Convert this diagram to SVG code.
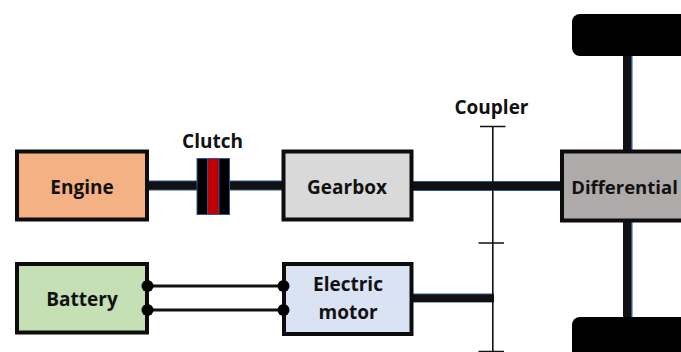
<svg xmlns="http://www.w3.org/2000/svg" width="681" height="352" viewBox="0 0 681 352">
<style>
.box{stroke:#0d0d0d;stroke-width:4}
.lab{font-family:"Open Sans","Noto Sans","Liberation Sans",sans-serif;font-weight:700;font-size:19px;fill:#111;text-anchor:middle}
.edge{fill:#2f5597}
.core{fill:#111}
.wire{stroke:#111;stroke-width:3;fill:none}
.thin{stroke:#111;stroke-width:1.6;fill:none}
.dot{fill:#000}
.wheel{fill:#000}
</style>
<rect width="681" height="352" fill="#fff"/>
<g id="connectors">
<rect class="edge" x="146" y="180.500" width="52" height="10"/><rect class="core" x="146" y="181.500" width="52" height="8"/>
<rect class="edge" x="230" y="180.500" width="54" height="10"/><rect class="core" x="230" y="181.500" width="54" height="8"/>
<rect class="edge" x="412" y="181" width="150" height="10"/><rect class="core" x="412" y="182" width="150" height="8"/>
<rect class="edge" x="623" y="55" width="9.500" height="96"/><rect class="core" x="623" y="55" width="8" height="96"/>
<rect class="edge" x="623" y="221" width="9.500" height="97"/><rect class="core" x="623" y="221" width="8" height="97"/>
<rect class="edge" x="411" y="293.500" width="83" height="9"/><rect class="core" x="412" y="294.500" width="82" height="7.500"/>
<path class="thin" d="M492.800 126V352M480 126.500H505.500M478.500 243H504M478.500 351.500H504"/>
<path class="wire" d="M147 286H283M147 310H283"/>
</g>
<g id="engine"><rect class="box" x="17" y="151.500" width="130" height="68" fill="#f4b183"/><text class="lab" x="82" y="194">Engine</text></g>
<g id="clutch">
<rect x="197" y="158.500" width="32.500" height="56" fill="#000" stroke="#2f5597"/>
<rect x="207.500" y="158.500" width="11.500" height="56" fill="#c00000" stroke="#2f5597"/>
<text class="lab" x="212.500" y="148">Clutch</text>
</g>
<g id="gearbox"><rect class="box" x="283.500" y="151.500" width="128" height="68" fill="#d9d9d9"/><text class="lab" x="347" y="194">Gearbox</text></g>
<g id="coupler"><text class="lab" x="491.500" y="114">Coupler</text></g>
<g id="differential"><rect class="box" x="562" y="151.500" width="124" height="69" fill="#aeaaaa"/><text class="lab" x="624.500" y="194" style="font-size:18.500px">Differential</text></g>
<g id="battery"><rect class="box" x="17" y="264" width="130" height="68.500" fill="#c5e0b4"/><text class="lab" x="82" y="306">Battery</text></g>
<g id="motor"><rect class="box" x="284" y="264" width="127.500" height="70" fill="#dae3f3"/><text class="lab" x="348" y="291">Electric</text><text class="lab" x="348" y="319">motor</text></g>
<g id="terminals">
<circle class="dot" cx="147.500" cy="286" r="6"/><circle class="dot" cx="147.500" cy="310" r="6"/>
<circle class="dot" cx="283.500" cy="286" r="6"/><circle class="dot" cx="283.500" cy="310" r="6"/>
</g>
<g id="wheel-top"><rect class="wheel" x="572" y="14" width="125" height="42" rx="8"/></g>
<g id="wheel-bottom"><rect class="wheel" x="572" y="317" width="125" height="50" rx="8"/></g>
</svg>
